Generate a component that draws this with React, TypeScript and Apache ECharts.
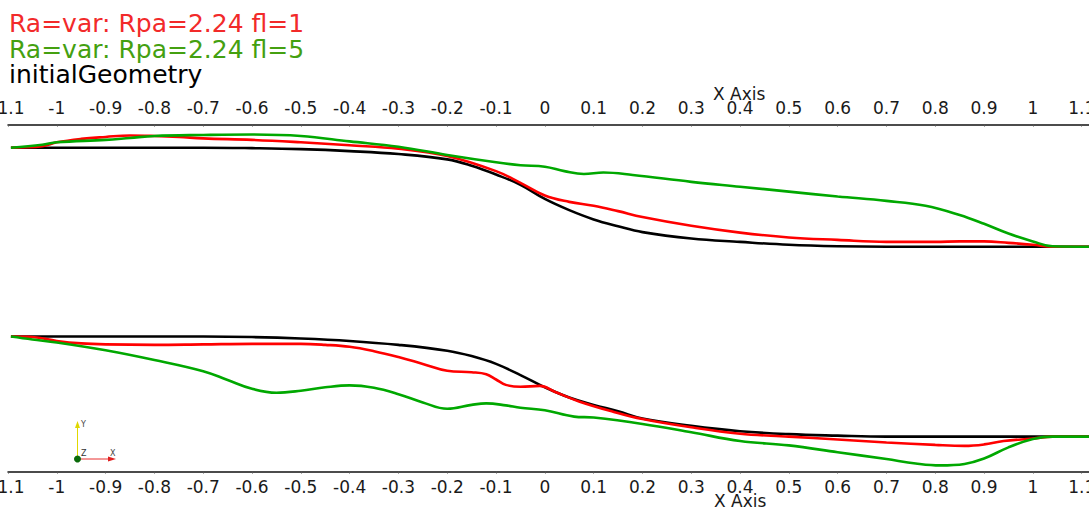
import React, { useEffect, useRef } from "react";
import * as echarts from "echarts";

// ---- data ----
const xMin = -1.1;
const xMax = 1.115;
const tickStep = 0.1;
const yMin = -0.3555;
const yMax = 0.3555;

const nameFl1 = "Ra=var: Rpa=2.24 fl=1";
const nameFl5 = "Ra=var: Rpa=2.24 fl=5";
const nameInit = "initialGeometry";

const initialUpper: [number, number][] = [
  [-1.094, 0.308], [-0.7, 0.308], [-0.6, 0.307], [-0.5, 0.305], [-0.4, 0.301],
  [-0.3, 0.295], [-0.2, 0.284], [-0.15, 0.271], [-0.1, 0.253], [-0.05, 0.232],
  [0, 0.203], [0.05, 0.18], [0.1, 0.161], [0.15, 0.147], [0.2, 0.135], [0.3, 0.122],
  [0.4, 0.115], [0.5, 0.109], [0.6, 0.106], [0.7, 0.105], [1.115, 0.105],
];
const initialLower: [number, number][] = [
  [-1.094, -0.079], [-0.7, -0.079], [-0.6, -0.08], [-0.5, -0.083], [-0.4, -0.088],
  [-0.3, -0.096], [-0.2, -0.108], [-0.15, -0.119], [-0.1, -0.135], [-0.05, -0.158],
  [0, -0.183], [0.05, -0.204], [0.1, -0.219], [0.15, -0.232], [0.2, -0.247],
  [0.3, -0.262], [0.4, -0.273], [0.5, -0.279], [0.6, -0.282], [0.7, -0.284], [1.115, -0.284],
];
const fl1Upper: [number, number][] = [
  [-1.094, 0.308], [-1.03, 0.311], [-1.0, 0.319], [-0.95, 0.326], [-0.9, 0.33],
  [-0.85, 0.333], [-0.8, 0.332], [-0.75, 0.33], [-0.7, 0.327], [-0.6, 0.324],
  [-0.5, 0.319], [-0.4, 0.313], [-0.3, 0.306], [-0.2, 0.291], [-0.1, 0.26],
  [-0.05, 0.236], [0, 0.21], [0.05, 0.197], [0.1, 0.189], [0.15, 0.178], [0.2, 0.166],
  [0.3, 0.148], [0.4, 0.134], [0.5, 0.124], [0.6, 0.119], [0.7, 0.115], [0.8, 0.115],
  [0.85, 0.116], [0.9, 0.116], [0.95, 0.113], [1.0, 0.109], [1.04, 0.105], [1.115, 0.105],
];
const fl1Lower: [number, number][] = [
  [-1.094, -0.079], [-1.05, -0.08], [-1.0, -0.088], [-0.95, -0.093], [-0.9, -0.095],
  [-0.8, -0.096], [-0.7, -0.095], [-0.6, -0.094], [-0.5, -0.094], [-0.45, -0.096],
  [-0.4, -0.1], [-0.35, -0.109], [-0.3, -0.121], [-0.25, -0.135], [-0.2, -0.149],
  [-0.15, -0.152], [-0.12, -0.156], [-0.1, -0.167], [-0.08, -0.178], [-0.05, -0.182],
  [-0.01, -0.18], [0.02, -0.192], [0.07, -0.212], [0.14, -0.233], [0.2, -0.248],
  [0.3, -0.265], [0.4, -0.278], [0.5, -0.284], [0.6, -0.29], [0.7, -0.296],
  [0.8, -0.301], [0.86, -0.303], [0.9, -0.3], [0.94, -0.293], [1.0, -0.288], [1.04, -0.284], [1.115, -0.284],
];
const fl5Upper: [number, number][] = [
  [-1.094, 0.308], [-1.03, 0.314], [-1.0, 0.319], [-0.9, 0.324], [-0.85, 0.328],
  [-0.8, 0.332], [-0.7, 0.334], [-0.6, 0.335], [-0.5, 0.332], [-0.4, 0.321],
  [-0.3, 0.31], [-0.2, 0.293], [-0.1, 0.278], [-0.05, 0.272], [0, 0.269],
  [0.04, 0.26], [0.08, 0.254], [0.12, 0.257], [0.18, 0.252], [0.3, 0.238],
  [0.4, 0.228], [0.5, 0.218], [0.6, 0.208], [0.7, 0.199], [0.78, 0.189],
  [0.85, 0.17], [0.9, 0.152], [0.95, 0.132], [1.0, 0.116], [1.04, 0.106], [1.115, 0.105],
];
const fl5Lower: [number, number][] = [
  [-1.094, -0.079], [-1.05, -0.085], [-1.0, -0.091], [-0.9, -0.107], [-0.8, -0.127],
  [-0.7, -0.15], [-0.65, -0.168], [-0.6, -0.186], [-0.55, -0.194], [-0.5, -0.19],
  [-0.45, -0.183], [-0.4, -0.179], [-0.35, -0.184], [-0.3, -0.197], [-0.25, -0.214],
  [-0.2, -0.227], [-0.15, -0.219], [-0.12, -0.216], [-0.08, -0.22], [-0.05, -0.225],
  [0, -0.23], [0.06, -0.243], [0.1, -0.245], [0.2, -0.258], [0.3, -0.275],
  [0.4, -0.293], [0.5, -0.302], [0.6, -0.316], [0.7, -0.33], [0.76, -0.339],
  [0.81, -0.343], [0.86, -0.34], [0.9, -0.329], [0.95, -0.306], [1.0, -0.289],
  [1.04, -0.284], [1.115, -0.284],
];

const axisTitle = "X Axis";

// ---- styles ----
const FONT = "DejaVu Sans";
const RED = "#ff0000";
const GREEN = "#00a800";
const BLACK = "#000000";

export default function App() {
  const ref = useRef<HTMLDivElement>(null);

  useEffect(() => {
    if (!ref.current) return;
    const chart = echarts.init(ref.current, null, { renderer: "svg" });

    const line = (name: string, data: [number, number][], color: string, z: number) => ({
      type: "line",
      name,
      data,
      xAxisIndex: 0,
      yAxisIndex: 0,
      symbol: "none",
      showSymbol: false,
      smooth: 0.4,
      lineStyle: { color, width: 2.6 },
      itemStyle: { color },
      z,
      silent: true,
    });

    const xAxisCommon = {
      type: "value",
      min: xMin,
      max: xMax,
      interval: tickStep,
      splitLine: { show: false },
      axisLine: { show: true, onZero: false, lineStyle: { color: "#111", width: 1.5 } },
      axisTick: { show: true, length: 2, lineStyle: { color: "#555", width: 1 } },
    };

    const labelStyle = {
      fontFamily: FONT,
      fontSize: 17,
      color: "#1a1a1a",
      showMaxLabel: false,
      showMinLabel: true,
      formatter: (v: number) => String(Math.round(v * 10) / 10),
    };

    chart.setOption({
      animation: false,
      backgroundColor: "#ffffff",
      legend: {
        show: true,
        orient: "vertical",
        left: 4,
        top: 11,
        padding: 0,
        itemGap: 0,
        itemWidth: 0,
        itemHeight: 25.5,
        icon: "rect",
        selectedMode: false,
        textStyle: { fontFamily: FONT, fontSize: 25, lineHeight: 25.5 },
        data: [
          { name: nameFl1, textStyle: { color: "#f22a2a" } },
          { name: nameFl5, textStyle: { color: "#44a010" } },
          { name: nameInit, textStyle: { color: "#000000" } },
        ],
      },
      grid: {
        left: 8,
        right: 0,
        top: 124.5,
        bottom: 39.5,
        containLabel: false,
        outerBoundsMode: "none",
      },
      xAxis: [
        {
          ...xAxisCommon,
          position: "bottom",
          axisTick: { ...xAxisCommon.axisTick, inside: false },
          axisLabel: { ...labelStyle, margin: 7 },
        },
        {
          ...xAxisCommon,
          position: "top",
          axisTick: { ...xAxisCommon.axisTick, inside: true },
          axisLabel: { ...labelStyle, margin: 8 },
        },
      ],
      yAxis: {
        type: "value",
        min: yMin,
        max: yMax,
        show: false,
        splitLine: { show: false },
      },
      series: [
        line(nameInit, initialUpper, BLACK, 2),
        line(nameInit, initialLower, BLACK, 2),
        line(nameFl1, fl1Upper, RED, 3),
        line(nameFl1, fl1Lower, RED, 3),
        line(nameFl5, fl5Upper, GREEN, 4),
        line(nameFl5, fl5Lower, GREEN, 4),
      ],
      graphic: [
        {
          type: "text",
          left: 713,
          top: 85,
          style: { text: axisTitle, font: `17px "${FONT}"`, fill: "#1a1a1a" },
        },
        {
          type: "text",
          left: 714,
          top: 492,
          style: { text: axisTitle, font: `17px "${FONT}"`, fill: "#1a1a1a" },
        },
        // orientation axes triad
        {
          type: "group",
          left: 74,
          top: 420,
          children: [
            { type: "line", shape: { x1: 5.5, y1: 39, x2: 5.5, y2: 6 }, style: { stroke: "#e0d800", lineWidth: 1 } },
            { type: "polygon", shape: { points: [[5.5, 1], [3, 8], [8, 8]] }, style: { fill: "#e0d800" } },
            { type: "line", shape: { x1: 5.5, y1: 39, x2: 38, y2: 39 }, style: { stroke: "#e83030", lineWidth: 1 } },
            { type: "polygon", shape: { points: [[44, 39], [36, 36.5], [36, 41.5]] }, style: { fill: "#e02020" } },
            { type: "circle", shape: { cx: 5.5, cy: 39, r: 3.5 }, style: { fill: "#0a6a0a" } },
            { type: "text", x: 9, y: 0, style: { text: "Y", font: `8px "${FONT}"`, fill: "#444" } },
            { type: "text", x: 9, y: 29, style: { text: "Z", font: `8px "${FONT}"`, fill: "#333" } },
            { type: "text", x: 38, y: 29, style: { text: "X", font: `8px "${FONT}"`, fill: "#444" } },
          ],
        },
      ],
    });

    return () => chart.dispose();
  }, []);

  return (
    <div
      ref={ref}
      style={{ position: "fixed", left: 0, top: 0, width: 1089, height: 511, background: "#fff" }}
    />
  );
}
